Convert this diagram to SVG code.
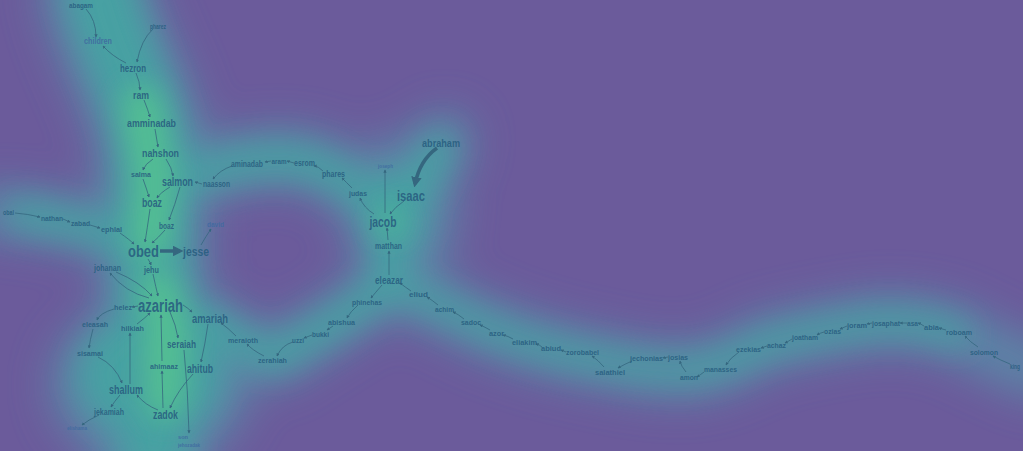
<svg xmlns="http://www.w3.org/2000/svg" width="1023" height="451" viewBox="0 0 1023 451">
<defs>
<style>
text{font-family:"Liberation Sans","DejaVu Sans",sans-serif;font-weight:bold;fill:#285e80;fill-opacity:0.9;text-anchor:middle;dominant-baseline:central;}
text.l{fill:#3f6aa0;}
.s6{font-size:6px}.s7{font-size:7px}.s8{font-size:8px}.s9{font-size:9px}.s11{font-size:11px}.s12{font-size:12px}.s13{font-size:13px}.s15{font-size:15px}.s17{font-size:17px}.s18{font-size:18px}
.e{fill:none;stroke:#35677f;stroke-width:0.8;marker-end:url(#ah);}
.e.thick{stroke-width:3.5;marker-end:url(#ahb);}
.g1{fill:none;stroke:#5a8aa8;stroke-linecap:round;stroke-linejoin:round;}
.g2{fill:none;stroke:#45a4a2;stroke-linecap:round;stroke-linejoin:round;}
.g3{fill:none;stroke:#55c391;stroke-linecap:round;stroke-linejoin:round;}
</style>
<marker id="ah" viewBox="0 0 6 6" refX="5" refY="3" markerWidth="4" markerHeight="4" orient="auto"><path d="M0,0 L6,3 L0,6 z" fill="#35677f"/></marker>
<marker id="ahb" viewBox="0 0 6 6" refX="4" refY="3" markerWidth="3" markerHeight="3" orient="auto"><path d="M0,0 L6,3 L0,6 z" fill="#35677f"/></marker>
<filter id="b1" filterUnits="userSpaceOnUse" x="-100" y="-100" width="1223" height="651"><feGaussianBlur stdDeviation="22"/></filter>
<filter id="b2" filterUnits="userSpaceOnUse" x="-100" y="-100" width="1223" height="651"><feGaussianBlur stdDeviation="16"/></filter>
<filter id="b3" filterUnits="userSpaceOnUse" x="-100" y="-100" width="1223" height="651"><feGaussianBlur stdDeviation="14"/></filter>
</defs>
<rect width="1023" height="451" fill="#6b5b9b"/>
<g id="heat">
<g filter="url(#b1)" opacity="0.95">
<path class="g1" stroke-width="105" d="M95,-10 C105,40 140,90 150,140 C155,200 150,260 155,300 C160,350 150,400 150,470"/>
<ellipse cx="150" cy="385" rx="98" ry="82" fill="#5a8aa8"/>
<path class="g1" stroke-width="48" d="M-10,212 Q60,215 140,242"/>
<path class="g1" stroke-width="55" d="M160,182 Q200,170 240,162 Q300,150 330,170 Q360,185 385,215"/>
<ellipse cx="400" cy="212" rx="55" ry="75" fill="#5a8aa8"/>
<path class="g1" stroke-width="55" d="M445,140 L400,230"/>
<path class="g1" stroke-width="50" d="M390,285 Q360,305 330,325 Q300,342 275,360 Q240,345 200,318"/>
<path class="g1" stroke-width="52" d="M395,285 Q440,305 480,325 Q540,350 600,360 Q650,372 690,372 Q730,365 760,345 Q820,330 880,322 Q930,322 960,335 Q990,352 1040,372"/>
</g>
<g filter="url(#b2)" opacity="0.9">
<path class="g2" stroke-width="70" d="M100,-10 C110,40 140,90 150,140 C155,200 150,260 155,300 C160,350 155,400 155,450"/>
<ellipse cx="150" cy="375" rx="72" ry="62" fill="#45a4a2"/>
<path class="g2" stroke-width="28" d="M20,214 Q90,225 140,245"/>
<path class="g2" stroke-width="30" d="M170,182 Q200,172 240,163 Q300,153 330,172 Q360,187 385,215"/>
<ellipse cx="395" cy="215" rx="30" ry="45" fill="#45a4a2"/>
<path class="g2" stroke-width="30" d="M440,145 L405,215 M390,230 L390,285"/>
<path class="g2" stroke-width="28" d="M388,285 Q360,305 330,325 Q300,342 275,358 Q240,345 205,318"/>
<path class="g2" stroke-width="22" d="M395,285 Q440,305 480,325 Q540,350 600,360 Q650,370 690,370 Q730,365 760,345 Q820,330 880,322 Q930,322 960,335"/>
</g>
<g filter="url(#b3)" opacity="0.9">
<path class="g3" stroke-width="38" d="M142,105 L155,180 L150,240 M158,290 L168,330 L165,400"/>
<circle cx="165" cy="350" r="22" fill="#55c391"/>
<circle cx="390" cy="222" r="14" fill="#4fb89a"/>
</g>
</g>
<g id="connectors">
<path class="e" d="M86,9 Q96,20 96,37"/>
<path class="e" d="M153,29 Q141,40 137,62"/>
<path class="e" d="M126,63 Q112,56 103,46"/>
<path class="e" d="M136,73 Q140,82 140,90"/>
<path class="e" d="M144,100 Q148,110 150,117"/>
<path class="e" d="M155,129 L158,147"/>
<path class="e" d="M153,159 Q145,164 143,170"/>
<path class="e" d="M166,159 Q172,168 173,176"/>
<path class="e" d="M143,179 Q147,190 149,197"/>
<path class="e" d="M170,187 Q160,193 157,198"/>
<path class="e" d="M202,184 L195,182"/>
<path class="e" d="M232,166 Q220,170 213,179"/>
<path class="e" d="M271,161 L265,162"/>
<path class="e" d="M294,163 L287,161"/>
<path class="e" d="M323,171 Q318,166 314,166"/>
<path class="e" d="M352,188 Q346,182 342,178"/>
<path class="e" d="M374,214 Q364,208 360,198"/>
<path class="e" d="M385,213 L385,170"/>
<path class="e" d="M404,201 Q395,207 390,214"/>
<path class="e thick" d="M437,148 Q420,160 415,184"/>
<path class="e" d="M388,240 L387,228"/>
<path class="e" d="M389,275 L389,251"/>
<path class="e" d="M411,291 Q405,287 400,283"/>
<path class="e" d="M438,305 Q432,300 427,297"/>
<path class="e" d="M464,319 Q458,314 453,312"/>
<path class="e" d="M490,330 Q485,327 480,325"/>
<path class="e" d="M513,339 Q508,336 503,335"/>
<path class="e" d="M542,347 Q540,345 536,344"/>
<path class="e" d="M566,352 L561,350"/>
<path class="e" d="M604,367 Q598,360 592,356"/>
<path class="e" d="M632,361 Q625,364 618,368"/>
<path class="e" d="M668,357 L663,358"/>
<path class="e" d="M686,372 Q681,366 680,361"/>
<path class="e" d="M704,372 Q700,375 697,377"/>
<path class="e" d="M739,352 Q730,358 726,365"/>
<path class="e" d="M767,346 L761,348"/>
<path class="e" d="M792,339 Q789,341 785,343"/>
<path class="e" d="M824,332 Q820,333 817,335"/>
<path class="e" d="M847,326 L840,329"/>
<path class="e" d="M872,323 L867,324"/>
<path class="e" d="M907,323 L900,323"/>
<path class="e" d="M924,326 Q921,324 918,323"/>
<path class="e" d="M946,330 Q942,329 939,328"/>
<path class="e" d="M978,347 Q970,342 965,336"/>
<path class="e" d="M1010,364 Q1000,360 993,356"/>
<path class="e" d="M201,245 Q206,236 211,229"/>
<path class="e thick" d="M160,251 L180,251"/>
<path class="e" d="M150,209 Q147,230 145,242"/>
<path class="e" d="M165,230 Q158,238 152,243"/>
<path class="e" d="M180,187 Q175,205 169,220"/>
<path class="e" d="M15,213 Q28,214 40,217"/>
<path class="e" d="M63,219 L70,222"/>
<path class="e" d="M90,225 L100,228"/>
<path class="e" d="M120,233 Q130,240 134,244"/>
<path class="e" d="M148,259 Q150,262 151,265"/>
<path class="e" d="M153,274 Q156,288 158,296"/>
<path class="e" d="M116,272 Q140,282 152,296"/>
<path class="e" d="M149,298 Q125,292 110,273"/>
<path class="e" d="M138,306 L132,307"/>
<path class="e" d="M114,309 Q100,313 97,320"/>
<path class="e" d="M93,329 Q90,340 89,348"/>
<path class="e" d="M98,357 Q115,365 122,383"/>
<path class="e" d="M120,395 Q114,402 111,407"/>
<path class="e" d="M99,415 Q88,420 82,425"/>
<path class="e" d="M158,410 Q145,405 137,395"/>
<path class="e" d="M130,384 L130,333"/>
<path class="e" d="M137,324 Q145,318 150,313"/>
<path class="e" d="M163,408 L162,371"/>
<path class="e" d="M162,361 L161,315"/>
<path class="e" d="M170,312 Q176,325 178,338"/>
<path class="e" d="M184,350 Q188,390 189,433"/>
<path class="e" d="M183,305 Q188,308 192,312"/>
<path class="e" d="M208,324 Q205,345 201,362"/>
<path class="e" d="M193,374 Q178,390 170,408"/>
<path class="e" d="M236,336 Q228,328 221,323"/>
<path class="e" d="M264,356 Q252,350 247,344"/>
<path class="e" d="M293,342 Q282,345 277,356"/>
<path class="e" d="M312,335 L304,338"/>
<path class="e" d="M333,326 L327,330"/>
<path class="e" d="M358,305 Q350,312 347,318"/>
<path class="e" d="M382,285 Q375,293 371,298"/>
</g>
<g id="n-abagam"><text x="81" y="5.5" class="s7" textLength="24" lengthAdjust="spacingAndGlyphs">abagam</text></g>
<g id="n-pharez"><text x="158" y="26" class="s7" textLength="16" lengthAdjust="spacingAndGlyphs">pharez</text></g>
<g id="n-children"><text x="98" y="41" class="s9 l" textLength="28" lengthAdjust="spacingAndGlyphs">children</text></g>
<g id="n-hezron"><text x="133" y="67.5" class="s11" textLength="26" lengthAdjust="spacingAndGlyphs">hezron</text></g>
<g id="n-ram"><text x="141" y="95" class="s11" textLength="16" lengthAdjust="spacingAndGlyphs">ram</text></g>
<g id="n-amminadab"><text x="151.5" y="123" class="s11" textLength="49" lengthAdjust="spacingAndGlyphs">amminadab</text></g>
<g id="n-nahshon"><text x="160.5" y="153" class="s11" textLength="37" lengthAdjust="spacingAndGlyphs">nahshon</text></g>
<g id="n-salma"><text x="141" y="174.5" class="s8" textLength="20" lengthAdjust="spacingAndGlyphs">salma</text></g>
<g id="n-salmon"><text x="177.5" y="181.5" class="s12" textLength="31" lengthAdjust="spacingAndGlyphs">salmon</text></g>
<g id="n-naasson"><text x="216.5" y="184" class="s9" textLength="27" lengthAdjust="spacingAndGlyphs">naasson</text></g>
<g id="n-boaz"><text x="152" y="203" class="s12" textLength="20" lengthAdjust="spacingAndGlyphs">boaz</text></g>
<g id="n-boaz2"><text x="166.5" y="225.5" class="s9" textLength="15" lengthAdjust="spacingAndGlyphs">boaz</text></g>
<g id="n-david"><text x="215.5" y="224.5" class="s8 l" textLength="17" lengthAdjust="spacingAndGlyphs">david</text></g>
<g id="n-obed"><text x="143.5" y="251" class="s17" textLength="31" lengthAdjust="spacingAndGlyphs">obed</text></g>
<g id="n-jesse"><text x="196" y="251" class="s13" textLength="26" lengthAdjust="spacingAndGlyphs">jesse</text></g>
<g id="n-obal"><text x="8.5" y="212.5" class="s7" textLength="11" lengthAdjust="spacingAndGlyphs">obal</text></g>
<g id="n-nathan"><text x="52" y="218" class="s8" textLength="22" lengthAdjust="spacingAndGlyphs">nathan</text></g>
<g id="n-zabad"><text x="80.5" y="223" class="s8" textLength="19" lengthAdjust="spacingAndGlyphs">zabad</text></g>
<g id="n-ephlal"><text x="111.5" y="229.5" class="s8" textLength="21" lengthAdjust="spacingAndGlyphs">ephlal</text></g>
<g id="n-johanan"><text x="107.5" y="268" class="s9" textLength="27" lengthAdjust="spacingAndGlyphs">johanan</text></g>
<g id="n-jehu"><text x="151.5" y="270" class="s9" textLength="15" lengthAdjust="spacingAndGlyphs">jehu</text></g>
<g id="n-azariah"><text x="160.5" y="305.5" class="s18" textLength="45" lengthAdjust="spacingAndGlyphs">azariah</text></g>
<g id="n-helez"><text x="123" y="307" class="s8" textLength="18" lengthAdjust="spacingAndGlyphs">helez</text></g>
<g id="n-amariah"><text x="210" y="318.5" class="s12" textLength="36" lengthAdjust="spacingAndGlyphs">amariah</text></g>
<g id="n-eleasah"><text x="95" y="324.5" class="s8" textLength="26" lengthAdjust="spacingAndGlyphs">eleasah</text></g>
<g id="n-hilkiah"><text x="132.5" y="328.5" class="s8" textLength="23" lengthAdjust="spacingAndGlyphs">hilkiah</text></g>
<g id="n-meraioth"><text x="243" y="340.5" class="s8" textLength="30" lengthAdjust="spacingAndGlyphs">meraioth</text></g>
<g id="n-seraiah"><text x="181.5" y="344" class="s11" textLength="29" lengthAdjust="spacingAndGlyphs">seraiah</text></g>
<g id="n-sisamai"><text x="90" y="353" class="s8" textLength="26" lengthAdjust="spacingAndGlyphs">sisamai</text></g>
<g id="n-ahimaaz"><text x="164" y="366" class="s8" textLength="28" lengthAdjust="spacingAndGlyphs">ahimaaz</text></g>
<g id="n-ahitub"><text x="200" y="368.5" class="s12" textLength="26" lengthAdjust="spacingAndGlyphs">ahitub</text></g>
<g id="n-shallum"><text x="126" y="389.5" class="s12" textLength="34" lengthAdjust="spacingAndGlyphs">shallum</text></g>
<g id="n-jekamiah"><text x="109" y="412" class="s9" textLength="30" lengthAdjust="spacingAndGlyphs">jekamiah</text></g>
<g id="n-zadok"><text x="165.5" y="414.5" class="s12" textLength="25" lengthAdjust="spacingAndGlyphs">zadok</text></g>
<g id="n-elishama"><text x="77" y="428" class="s6 l" textLength="20" lengthAdjust="spacingAndGlyphs">elishama</text></g>
<g id="n-jehozadak"><text x="183" y="437" class="s6 l" textLength="10" lengthAdjust="spacingAndGlyphs">son</text><text x="189" y="445" class="s6 l" textLength="22" lengthAdjust="spacingAndGlyphs">jehozadak</text></g>
<g id="n-aminadab"><text x="247" y="163.5" class="s9" textLength="32" lengthAdjust="spacingAndGlyphs">aminadab</text></g>
<g id="n-aram"><text x="279" y="161" class="s8" textLength="15" lengthAdjust="spacingAndGlyphs">aram</text></g>
<g id="n-esrom"><text x="304.5" y="163" class="s9" textLength="21" lengthAdjust="spacingAndGlyphs">esrom</text></g>
<g id="n-phares"><text x="333.5" y="174" class="s9" textLength="23" lengthAdjust="spacingAndGlyphs">phares</text></g>
<g id="n-judas"><text x="358" y="193" class="s8" textLength="18" lengthAdjust="spacingAndGlyphs">judas</text></g>
<g id="n-jacob"><text x="383" y="221" class="s15" textLength="27" lengthAdjust="spacingAndGlyphs">jacob</text></g>
<g id="n-joseph"><text x="385.5" y="166" class="s6 l" textLength="15" lengthAdjust="spacingAndGlyphs">joseph</text></g>
<g id="n-isaac"><text x="411" y="195" class="s15" textLength="28" lengthAdjust="spacingAndGlyphs">isaac</text></g>
<g id="n-abraham"><text x="441" y="143" class="s11" textLength="38" lengthAdjust="spacingAndGlyphs">abraham</text></g>
<g id="n-matthan"><text x="388.5" y="245.5" class="s9" textLength="27" lengthAdjust="spacingAndGlyphs">matthan</text></g>
<g id="n-eleazar"><text x="389" y="280" class="s11" textLength="28" lengthAdjust="spacingAndGlyphs">eleazar</text></g>
<g id="n-eliud"><text x="418.5" y="294" class="s8" textLength="19" lengthAdjust="spacingAndGlyphs">eliud</text></g>
<g id="n-phinehas"><text x="367" y="302" class="s8" textLength="30" lengthAdjust="spacingAndGlyphs">phinehas</text></g>
<g id="n-abishua"><text x="341.5" y="322" class="s8" textLength="27" lengthAdjust="spacingAndGlyphs">abishua</text></g>
<g id="n-bukki"><text x="320.5" y="334" class="s8" textLength="17" lengthAdjust="spacingAndGlyphs">bukki</text></g>
<g id="n-uzzi"><text x="298" y="340" class="s8" textLength="12" lengthAdjust="spacingAndGlyphs">uzzi</text></g>
<g id="n-zerahiah"><text x="272.5" y="360.5" class="s8" textLength="29" lengthAdjust="spacingAndGlyphs">zerahiah</text></g>
<g id="n-achim"><text x="444.5" y="309" class="s8" textLength="19" lengthAdjust="spacingAndGlyphs">achim</text></g>
<g id="n-sadoc"><text x="471" y="322" class="s8" textLength="20" lengthAdjust="spacingAndGlyphs">sadoc</text></g>
<g id="n-azor"><text x="496.5" y="333" class="s8" textLength="15" lengthAdjust="spacingAndGlyphs">azor</text></g>
<g id="n-eliakim"><text x="524.5" y="342" class="s8" textLength="25" lengthAdjust="spacingAndGlyphs">eliakim</text></g>
<g id="n-abiud"><text x="551" y="348.5" class="s8" textLength="20" lengthAdjust="spacingAndGlyphs">abiud</text></g>
<g id="n-zorobabel"><text x="582.5" y="352" class="s8" textLength="33" lengthAdjust="spacingAndGlyphs">zorobabel</text></g>
<g id="n-salathiel"><text x="610" y="372" class="s8" textLength="30" lengthAdjust="spacingAndGlyphs">salathiel</text></g>
<g id="n-jechonias"><text x="646.5" y="358" class="s8" textLength="33" lengthAdjust="spacingAndGlyphs">jechonias</text></g>
<g id="n-josias"><text x="678" y="357" class="s8" textLength="20" lengthAdjust="spacingAndGlyphs">josias</text></g>
<g id="n-amon"><text x="689" y="377" class="s8" textLength="18" lengthAdjust="spacingAndGlyphs">amon</text></g>
<g id="n-manasses"><text x="720.5" y="369" class="s8" textLength="33" lengthAdjust="spacingAndGlyphs">manasses</text></g>
<g id="n-ezekias"><text x="748.5" y="349" class="s8" textLength="25" lengthAdjust="spacingAndGlyphs">ezekias</text></g>
<g id="n-achaz"><text x="776.5" y="345" class="s8" textLength="19" lengthAdjust="spacingAndGlyphs">achaz</text></g>
<g id="n-joatham"><text x="805" y="337" class="s8" textLength="26" lengthAdjust="spacingAndGlyphs">joatham</text></g>
<g id="n-ozias"><text x="832.5" y="331" class="s8" textLength="17" lengthAdjust="spacingAndGlyphs">ozias</text></g>
<g id="n-joram"><text x="857" y="325" class="s8" textLength="20" lengthAdjust="spacingAndGlyphs">joram</text></g>
<g id="n-josaphat"><text x="886" y="323" class="s8" textLength="28" lengthAdjust="spacingAndGlyphs">josaphat</text></g>
<g id="n-asa"><text x="912.5" y="323" class="s8" textLength="11" lengthAdjust="spacingAndGlyphs">asa</text></g>
<g id="n-abia"><text x="931.5" y="327" class="s8" textLength="15" lengthAdjust="spacingAndGlyphs">abia</text></g>
<g id="n-roboam"><text x="959" y="332" class="s8" textLength="26" lengthAdjust="spacingAndGlyphs">roboam</text></g>
<g id="n-solomon"><text x="984" y="352" class="s8" textLength="28" lengthAdjust="spacingAndGlyphs">solomon</text></g>
<g id="n-king"><text x="1015" y="366" class="s7" textLength="10" lengthAdjust="spacingAndGlyphs">king</text></g>
</svg>
